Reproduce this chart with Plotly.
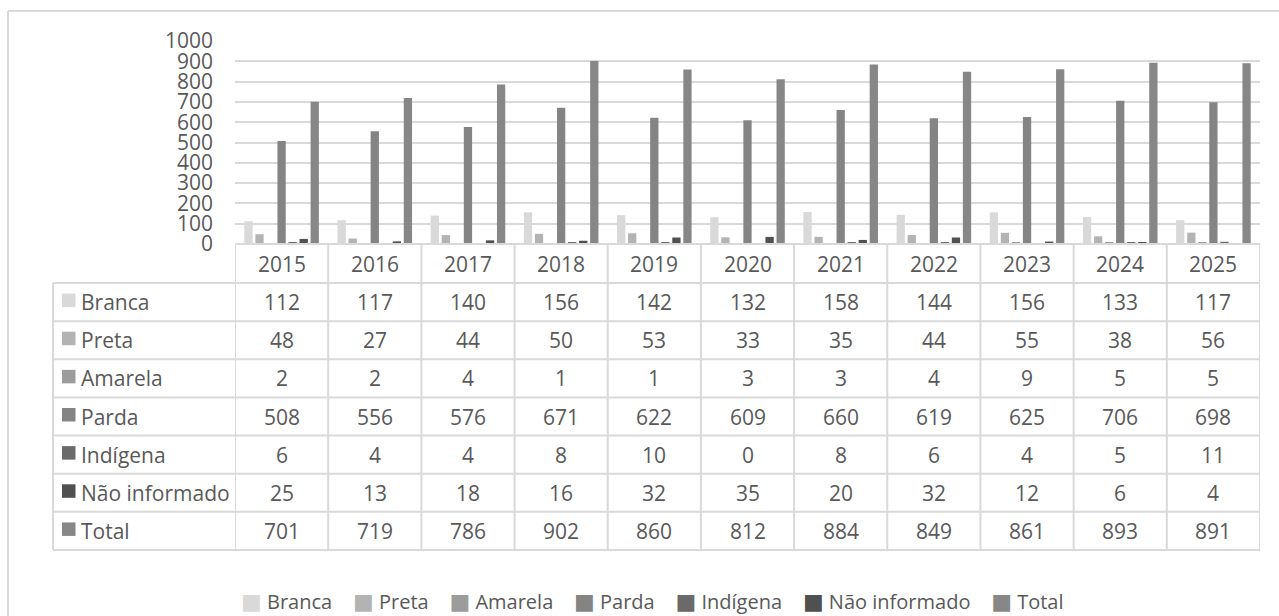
import plotly.graph_objects as go

W, H = 1279, 616

years = ["2015", "2016", "2017", "2018", "2019", "2020", "2021", "2022", "2023", "2024", "2025"]
series_names = ["Branca", "Preta", "Amarela", "Parda", "Indígena", "Não informado", "Total"]
branca = [112, 117, 140, 156, 142, 132, 158, 144, 156, 133, 117]
preta = [48, 27, 44, 50, 53, 33, 35, 44, 55, 38, 56]
amarela = [2, 2, 4, 1, 1, 3, 3, 4, 9, 5, 5]
parda = [508, 556, 576, 671, 622, 609, 660, 619, 625, 706, 698]
indigena = [6, 4, 4, 8, 10, 0, 8, 6, 4, 5, 11]
nao_informado = [25, 13, 18, 16, 32, 35, 20, 32, 12, 6, 4]
total = [701, 719, 786, 902, 860, 812, 884, 849, 861, 893, 891]
series_values = [branca, preta, amarela, parda, indigena, nao_informado, total]
colors = ["#d9d9d9", "#b3b3b3", "#9c9c9c", "#848484", "#6a6a6a", "#505050", "#878787"]
y_ticks = [0, 100, 200, 300, 400, 500, 600, 700, 800, 900, 1000]

FONT = "Open Sans"
FS = 21
TXT = "#595959"
LINE = "#d9d9d9"


def px(x):
    return x / W


def py(y):
    return 1 - y / H


# layout geometry (pixels)
plot_left, plot_right = 235, 1260
plot_top, plot_bottom = 41, 244
table_left = 53
header_bottom = 283
row_h = (550 - header_bottom) / len(series_names)
table_bottom = header_bottom + row_h * len(series_names)

fig = go.Figure()
for name, vals, col in zip(series_names, series_values, colors):
    fig.add_trace(go.Bar(x=years, y=vals, name=name, marker=dict(color=col, line=dict(width=0)),
                         showlegend=False))

shapes = []
annotations = []

# outer chart border (top and left visible)
shapes.append(dict(type="line", xref="paper", yref="paper", x0=px(8), x1=px(1400), y0=py(11), y1=py(11),
                   line=dict(color=LINE, width=2)))
shapes.append(dict(type="line", xref="paper", yref="paper", x0=px(8), x1=px(8), y0=py(11), y1=py(700),
                   line=dict(color=LINE, width=2)))

# table horizontal lines
shapes.append(dict(type="line", xref="paper", yref="paper", x0=px(plot_left), x1=px(plot_right),
                   y0=py(plot_bottom), y1=py(plot_bottom), line=dict(color=LINE, width=2)))
for i in range(len(series_names) + 1):
    yy = header_bottom + i * row_h
    shapes.append(dict(type="line", xref="paper", yref="paper", x0=px(table_left), x1=px(plot_right),
                       y0=py(yy), y1=py(yy), line=dict(color=LINE, width=2)))
# vertical lines
shapes.append(dict(type="line", xref="paper", yref="paper", x0=px(table_left), x1=px(table_left),
                   y0=py(header_bottom), y1=py(table_bottom), line=dict(color=LINE, width=2)))
for i in range(len(years) + 1):
    shapes.append(dict(type="line", xref="x", yref="paper", x0=i - 0.5, x1=i - 0.5,
                       y0=py(plot_bottom), y1=py(table_bottom), line=dict(color=LINE, width=2)))

# header years
for i, yr in enumerate(years):
    annotations.append(dict(x=i, xref="x", y=py((plot_bottom + header_bottom) / 2), yref="paper",
                            text=yr, showarrow=False, font=dict(family=FONT, size=FS, color=TXT),
                            xanchor="center", yanchor="middle"))

# rows
for r, (name, vals, col) in enumerate(zip(series_names, series_values, colors)):
    yc = header_bottom + (r + 0.5) * row_h
    shapes.append(dict(type="rect", xref="paper", yref="paper", x0=px(62), x1=px(75.5),
                       y0=py(yc - 8.5), y1=py(yc + 5), fillcolor=col, line=dict(width=0)))
    annotations.append(dict(x=px(79), xref="paper", y=py(yc), yref="paper", text=name, showarrow=False,
                            font=dict(family=FONT, size=FS, color=TXT), xanchor="left", yanchor="middle"))
    for i, v in enumerate(vals):
        annotations.append(dict(x=i, xref="x", y=py(yc), yref="paper", text=str(v), showarrow=False,
                                font=dict(family=FONT, size=FS, color=TXT), xanchor="center", yanchor="middle"))

# legend (bottom)
gap = "\u00a0" * 4
parts = []
for name, col in zip(series_names, colors):
    parts.append(f'<span style="font-family:DejaVu Sans;font-size:22px;color:{col}">■</span>\u00a0{name}')
legend_text = gap.join(parts)
annotations.append(dict(x=px(652), xref="paper", y=py(601), yref="paper", text=legend_text, showarrow=False,
                        font=dict(family=FONT, size=FS - 1, color=TXT), xanchor="center", yanchor="middle"))

fig.update_layout(
    width=W, height=H,
    margin=dict(l=0, r=0, t=0, b=0, autoexpand=False),
    paper_bgcolor="white", plot_bgcolor="white",
    barmode="group", bargap=0.17, bargroupgap=0.25,
    shapes=shapes, annotations=annotations,
    font=dict(family=FONT, color=TXT),
    xaxis=dict(type="category", domain=[px(plot_left), px(plot_right)], showticklabels=False,
               showgrid=False, zeroline=False, showline=False, ticks="", automargin=False,
               range=[-0.5, len(years) - 0.5]),
    yaxis=dict(domain=[py(plot_bottom), py(plot_top)], range=[0, 1000], tickvals=y_ticks,
               ticktext=[str(t) for t in y_ticks], showgrid=True, gridcolor=LINE, gridwidth=1.5,
               zeroline=False, showline=False, ticks="", ticklabelstandoff=21, automargin=False,
               tickfont=dict(family=FONT, size=FS, color=TXT)),
)

fig.write_html("out.html")
